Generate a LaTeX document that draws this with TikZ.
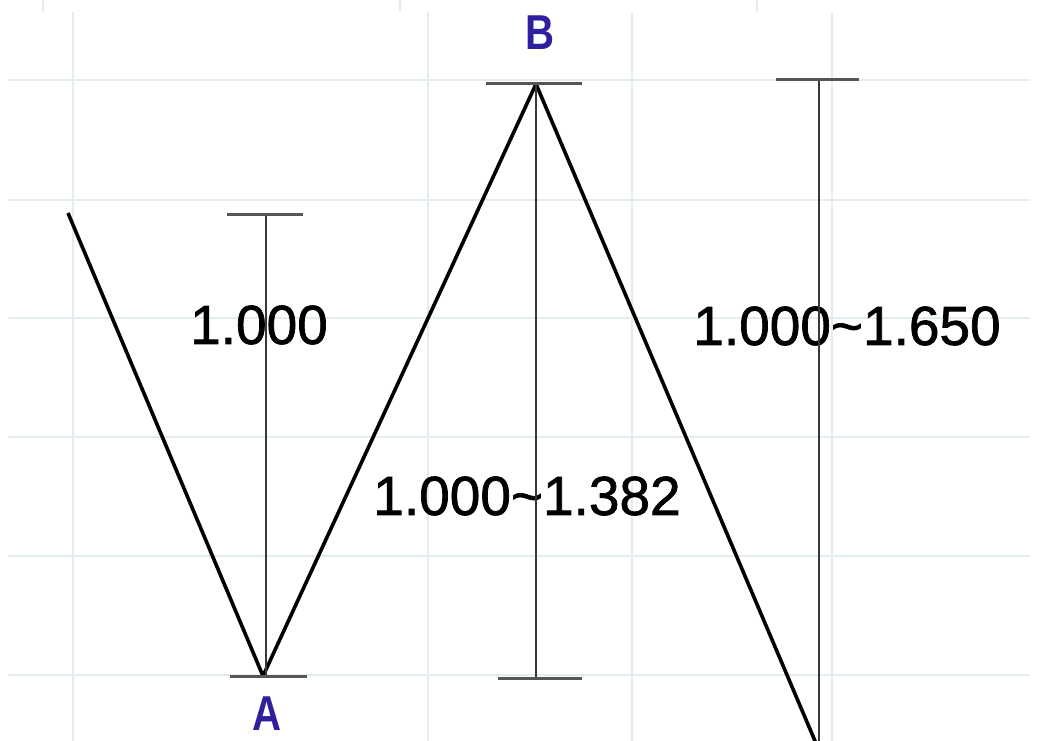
\documentclass[tikz,border=0pt]{standalone}
\usepackage{fontspec}
\setmainfont{Liberation Sans}
\newfontfamily\ratiofont[FakeBold=1.3]{Liberation Sans}
\newfontfamily\ptfont[FakeStretch=0.82]{Liberation Sans}
\usepackage{tikz}
\usetikzlibrary{positioning,calc}
\definecolor{gridblue}{HTML}{E3ECF1}
\definecolor{ptblue}{HTML}{2E1F9C}
\definecolor{bargray}{HTML}{383838}

\begin{document}
\begin{tikzpicture}[x=1pt,y=-1pt,
    gridline/.style={gridblue, line width=1.5pt},
    zig/.style={black, line width=3.6pt, line join=round},
    bar/.style={bargray, line width=1.8pt},
    barcap/.style={bargray!85, line width=3pt},
    ratio/.style={font=\ratiofont\fontsize{55}{60}\selectfont, inner sep=0pt},
    ptlabel/.style={ptblue, font=\ptfont\bfseries\fontsize{49}{54}\selectfont, inner sep=0pt}]
    \useasboundingbox (0,0) rectangle (1054,741);
    \clip (0,0) rectangle (1054,741);
    % grid
    \foreach \gx in {73,428,632,832}
      \draw[gridline] (\gx,12) -- (\gx,741);
    \foreach \gy in {80,200,318,437,556,675}
      \draw[gridline] (8,\gy) -- (1030,\gy);
    \foreach \gx in {43,400,757}
      \draw[gridline] (\gx,0) -- (\gx,12);
    % swing points
    \coordinate (start) at (68,213);
    \coordinate (a) at (263,676);
    \coordinate (b) at (536,84);
    \coordinate (end) at (818,748);
    % ratio labels
    \node[ratio] (ab) at (259,325) {1.000};
    \node[ratio] (bc) at (527,496) {1.000\textasciitilde1.382};
    \node[ratio] (cd) at (847,326) {1.000\textasciitilde1.650};
    % zigzag
    \draw[zig] (start) -- (a) -- (b) -- (end);
    % measuring bars
    \coordinate (atop) at (266,214);
    \coordinate (abot) at (266,676);
    \draw[bar] (atop) -- (abot);
    \draw[barcap] ($(atop)+(-39,0)$) -- ($(atop)+(37,0)$);
    \draw[barcap] ($(abot)+(-36,0)$) -- ($(abot)+(41,0)$);
    \coordinate (btop) at (536,84);
    \coordinate (bbot) at (536,678);
    \draw[bar] (btop) -- (bbot);
    \draw[barcap] ($(btop)+(-50,0)$) -- ($(btop)+(46,0)$);
    \draw[barcap] ($(bbot)+(-38,0)$) -- ($(bbot)+(46,0)$);
    \coordinate (ctop) at (819,80);
    \coordinate (cbot) at (819,741);
    \draw[bar] (ctop) -- (cbot);
    \draw[barcap] ($(ctop)+(-43,0)$) -- ($(ctop)+(40,0)$);
    % point names
    \node[ptlabel] (la) at (267,714) {A};
    \node[ptlabel] (lb) at (540,33) {B};
  \end{tikzpicture}
\end{document}
